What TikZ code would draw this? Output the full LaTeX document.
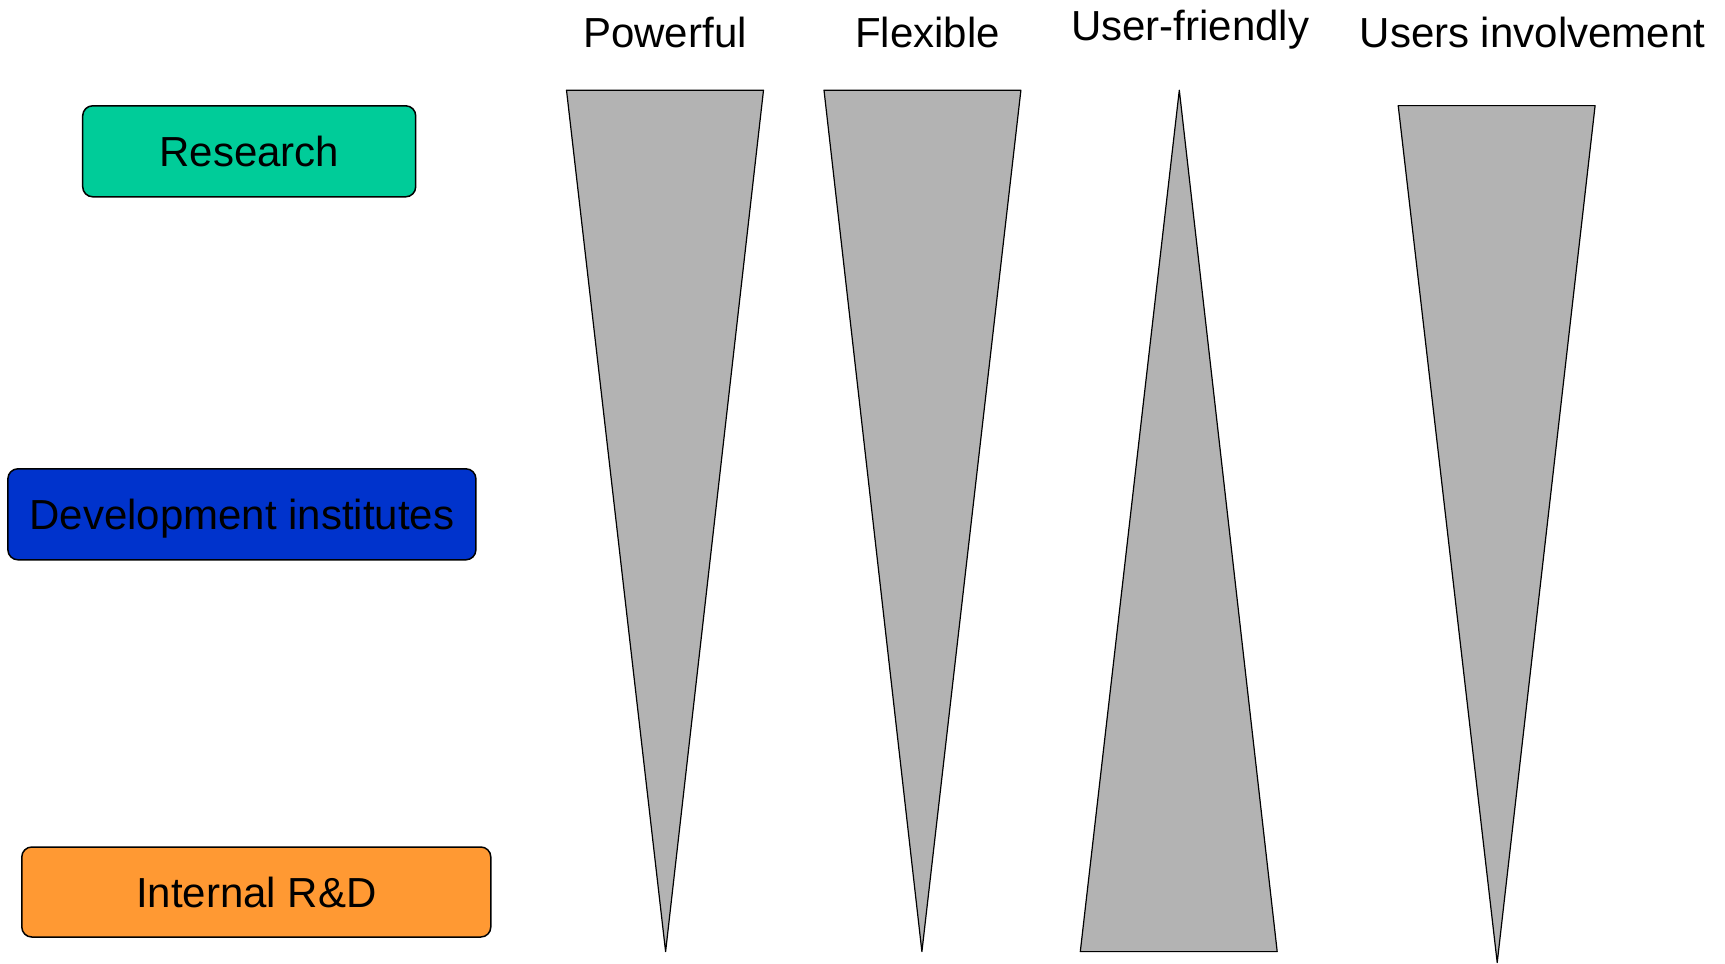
\documentclass[tikz,border=0pt]{standalone}
\usepackage{fontspec}
\setmainfont{Liberation Sans}
\definecolor{researchgreen}{RGB}{0,204,153}
\definecolor{devblue}{RGB}{0,51,204}
\definecolor{rdorange}{RGB}{255,153,51}
\definecolor{wedgegray}{RGB}{179,179,179}
\begin{document}
\begin{tikzpicture}[x=0.5pt, y=-0.5pt,
    stage/.style={draw, rounded corners=5pt, line width=0.75pt, align=center, inner sep=0pt,
      text height=15pt, text depth=0pt, font=\fontsize{21}{25}\selectfont},
    wedge/.style={draw, fill=wedgegray, line width=0.6pt, line join=round},
    heading/.style={anchor=base, inner sep=0pt, font=\fontsize{21}{25}\selectfont}]
    \useasboundingbox (0,0) rectangle (1725,964);

    % Origins of the software
    \node[stage, fill=researchgreen, minimum width=166.5pt, minimum height=45.5pt] (research) at (249.2,151.3) {Research};
    \node[stage, fill=devblue, minimum width=234pt, minimum height=45.5pt] (devinst) at (241.9,514.3) {Development institutes};
    \node[stage, fill=rdorange, minimum width=234.5pt, minimum height=45pt] (internal) at (256.3,892) {Internal R\&D};

    % Column headings
    \node[heading] (powerful) at (665,47.3) {Powerful};
    \node[heading] (flexible) at (927.4,47.3) {Flexible};
    \node[heading] (userfriendly) at (1190.3,40.7) {User-friendly};
    \node[heading] (involvement) at (1532.4,47.3) {Users involvement};

    % Wedges
    \draw[wedge] (566.5,90.2) -- (763.5,90.2) -- (665.6,951.6) -- cycle;
    \draw[wedge] (824,90.2) -- (1020.9,90.2) -- (921.9,951.6) -- cycle;
    \draw[wedge] (1179.3,90.2) -- (1277.2,951.6) -- (1080.3,951.6) -- cycle;
    \draw[wedge] (1398.2,105.6) -- (1595.1,105.6) -- (1497.2,962.6) -- cycle;
\end{tikzpicture}
\end{document}
